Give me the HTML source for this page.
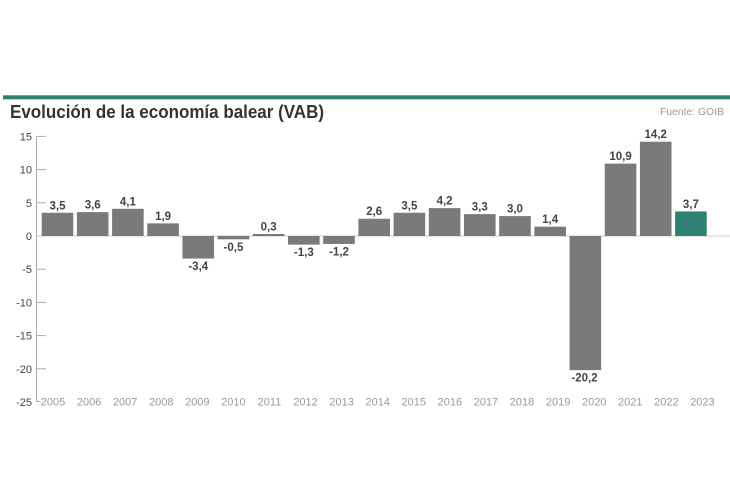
<!DOCTYPE html>
<html>
<head>
<meta charset="utf-8">
<style>
html,body{margin:0;padding:0;background:#fff;}
svg{display:block;}
</style>
</head>
<body>
<svg width="730" height="500" viewBox="0 0 730 500" xmlns="http://www.w3.org/2000/svg" font-family="'Liberation Sans', sans-serif">
<rect width="730" height="500" fill="#fff"/>
<!-- top green line -->
<rect x="3" y="95.3" width="727" height="4" fill="#2e7f6e"/>
<!-- title -->
<text x="10" y="118" font-size="18" font-weight="bold" fill="#333" textLength="314" lengthAdjust="spacingAndGlyphs">Evolución de la economía balear (VAB)</text>
<text x="724" y="115" font-size="10.5" fill="#9a9a9a" text-anchor="end" textLength="64" lengthAdjust="spacingAndGlyphs">Fuente: GOIB</text>

<!-- axis -->
<g stroke="#aaa" stroke-width="1">
<line x1="36.5" y1="136.4" x2="36.5" y2="402"/>
<line x1="36.5" y1="136.4" x2="46" y2="136.4"/>
<line x1="36.5" y1="169.6" x2="46" y2="169.6"/>
<line x1="36.5" y1="202.8" x2="46" y2="202.8"/>
<line x1="36.5" y1="269.2" x2="46" y2="269.2"/>
<line x1="36.5" y1="302.4" x2="46" y2="302.4"/>
<line x1="36.5" y1="335.6" x2="46" y2="335.6"/>
<line x1="36.5" y1="368.8" x2="46" y2="368.8"/>
<line x1="36.5" y1="401.5" x2="40.5" y2="401.5"/>
</g>
<line x1="36.5" y1="236" x2="730" y2="236" stroke="#c8c8c8" stroke-width="1"/>

<g font-size="11" fill="#444" text-anchor="end">
<text x="32" y="140.4">15</text>
<text x="32" y="173.6">10</text>
<text x="32" y="206.8">5</text>
<text x="32" y="240">0</text>
<text x="32" y="273.2">-5</text>
<text x="32" y="306.4">-10</text>
<text x="32" y="339.6">-15</text>
<text x="32" y="372.8">-20</text>
<text x="32" y="406">-25</text>
</g>

<!-- bars -->
<g fill="#7a7a7a">
<rect x="41.7" y="212.76" width="31.6" height="23.24"/>
<rect x="76.89" y="212.10" width="31.6" height="23.90"/>
<rect x="112.08" y="208.78" width="31.6" height="27.22"/>
<rect x="147.27" y="223.38" width="31.6" height="12.62"/>
<rect x="182.46" y="236" width="31.6" height="22.58"/>
<rect x="217.65" y="236" width="31.6" height="3.32"/>
<rect x="252.84" y="234.01" width="31.6" height="1.99"/>
<rect x="288.03" y="236" width="31.6" height="8.63"/>
<rect x="323.22" y="236" width="31.6" height="7.97"/>
<rect x="358.41" y="218.74" width="31.6" height="17.26"/>
<rect x="393.6" y="212.76" width="31.6" height="23.24"/>
<rect x="428.79" y="208.11" width="31.6" height="27.89"/>
<rect x="463.98" y="214.09" width="31.6" height="21.91"/>
<rect x="499.17" y="216.08" width="31.6" height="19.92"/>
<rect x="534.36" y="226.70" width="31.6" height="9.30"/>
<rect x="569.55" y="236" width="31.6" height="134.13"/>
<rect x="604.74" y="163.62" width="31.6" height="72.38"/>
<rect x="639.93" y="141.71" width="31.6" height="94.29"/>
</g>
<rect x="675.12" y="211.43" width="31.6" height="24.57" fill="#2f8171"/>

<!-- value labels -->
<g font-size="11.5" font-weight="bold" fill="#444" text-anchor="middle">
<text x="57.5" y="209.3">3,5</text>
<text x="92.69" y="208.6">3,6</text>
<text x="127.88" y="205.3">4,1</text>
<text x="163.07" y="219.9">1,9</text>
<text x="198.26" y="270.1">-3,4</text>
<text x="233.45" y="250.8">-0,5</text>
<text x="268.64" y="230.5">0,3</text>
<text x="303.83" y="256.1">-1,3</text>
<text x="339.02" y="255.5">-1,2</text>
<text x="374.21" y="215.2">2,6</text>
<text x="409.4" y="209.3">3,5</text>
<text x="444.59" y="204.6">4,2</text>
<text x="479.78" y="210.6">3,3</text>
<text x="514.97" y="212.6">3,0</text>
<text x="550.16" y="223.2">1,4</text>
<text x="584.5" y="381.6">-20,2</text>
<text x="620.54" y="160.1">10,9</text>
<text x="655.73" y="138.2">14,2</text>
<text x="690.92" y="207.9">3,7</text>
</g>

<!-- x labels -->
<g font-size="11" fill="#999" text-anchor="middle">
<text x="53" y="405.5">2005</text>
<text x="89.08" y="405.5">2006</text>
<text x="125.16" y="405.5">2007</text>
<text x="161.24" y="405.5">2008</text>
<text x="197.32" y="405.5">2009</text>
<text x="233.4" y="405.5">2010</text>
<text x="269.48" y="405.5">2011</text>
<text x="305.56" y="405.5">2012</text>
<text x="341.64" y="405.5">2013</text>
<text x="377.72" y="405.5">2014</text>
<text x="413.8" y="405.5">2015</text>
<text x="449.88" y="405.5">2016</text>
<text x="485.96" y="405.5">2017</text>
<text x="522.04" y="405.5">2018</text>
<text x="558.12" y="405.5">2019</text>
<text x="594.2" y="405.5">2020</text>
<text x="630.28" y="405.5">2021</text>
<text x="666.36" y="405.5">2022</text>
<text x="702.44" y="405.5">2023</text>
</g>
</svg>
</body>
</html>
